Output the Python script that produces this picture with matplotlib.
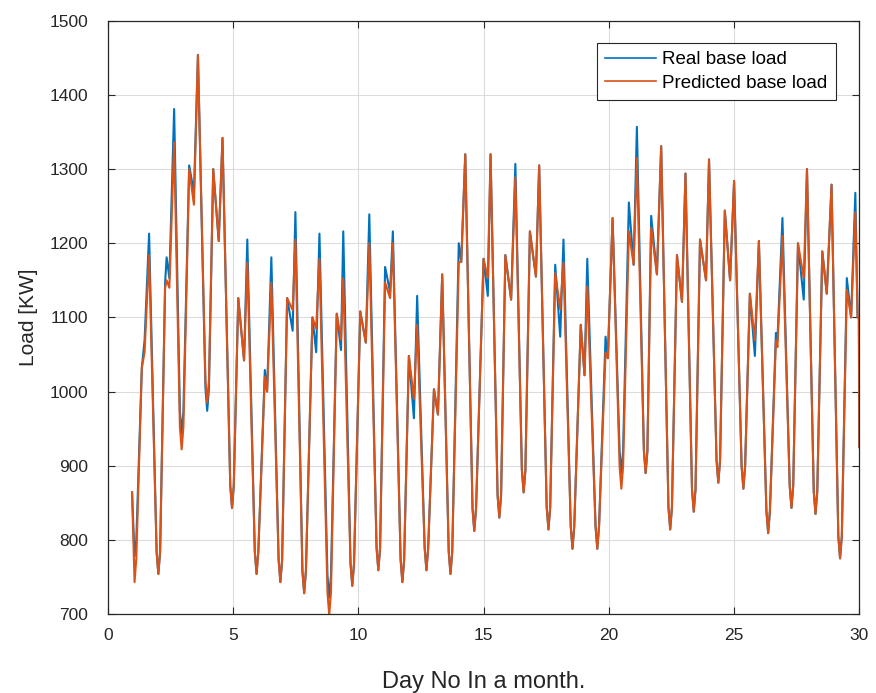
import numpy as np
import matplotlib
matplotlib.use("Agg")
import matplotlib.pyplot as plt

plt.rcParams['font.family'] = ['Liberation Sans', 'DejaVu Sans']

# day of month (points of each daily cycle)
day = [0.97, 1.07, 1.14, 1.36, 1.47, 1.65, 1.95, 2.02, 2.09, 2.29,
       2.35, 2.46, 2.65, 2.88, 2.95, 3.02, 3.25, 3.44, 3.60, 3.90,
       3.97, 4.04, 4.21, 4.43, 4.58, 4.89, 4.96, 5.03, 5.21, 5.44,
       5.57, 5.87, 5.94, 6.01, 6.27, 6.36, 6.53, 6.82, 6.89, 6.96,
       7.16, 7.38, 7.49, 7.77, 7.84, 7.91, 8.17, 8.32, 8.45, 8.77,
       8.84, 8.91, 9.14, 9.31, 9.40, 9.69, 9.76, 9.83, 10.08, 10.30,
       10.44, 10.73, 10.80, 10.87, 11.07, 11.27, 11.38, 11.69, 11.76, 11.83,
       12.02, 12.22, 12.35, 12.65, 12.72, 12.79, 13.02, 13.18, 13.35, 13.61,
       13.68, 13.75, 14.01, 14.11, 14.27, 14.56, 14.63, 14.70, 15.00, 15.17,
       15.28, 15.56, 15.63, 15.70, 15.87, 16.10, 16.27, 16.53, 16.60, 16.67,
       16.85, 17.09, 17.22, 17.52, 17.59, 17.66, 17.86, 18.06, 18.19, 18.48,
       18.55, 18.62, 18.88, 19.03, 19.14, 19.47, 19.54, 19.61, 19.87, 19.96,
       20.15, 20.43, 20.50, 20.57, 20.80, 20.99, 21.12, 21.40, 21.47, 21.54,
       21.69, 21.92, 22.09, 22.38, 22.45, 22.52, 22.72, 22.92, 23.06, 23.32,
       23.39, 23.46, 23.64, 23.88, 24.00, 24.30, 24.37, 24.44, 24.63, 24.84,
       25.00, 25.30, 25.37, 25.44, 25.63, 25.83, 25.99, 26.29, 26.36, 26.43,
       26.67, 26.73, 26.93, 27.22, 27.29, 27.36, 27.55, 27.78, 27.91, 28.18,
       28.25, 28.32, 28.52, 28.70, 28.89, 29.16, 29.23, 29.30, 29.50, 29.67,
       29.84, 29.93, 29.98, 30.00]

# real base load [KW]
real_load = [864, 778, 800, 1032, 1069, 1213, 784, 754, 784, 1147,
             1181, 1153, 1381, 973, 943, 973, 1305, 1268, 1454, 1004,
             974, 1004, 1300, 1203, 1342, 873, 843, 873, 1126, 1042,
             1205, 784, 754, 784, 1029, 1000, 1181, 773, 743, 773,
             1126, 1082, 1242, 758, 728, 758, 1100, 1053, 1213, 752,
             722, 752, 1105, 1056, 1216, 768, 738, 768, 1108, 1066,
             1239, 789, 759, 789, 1168, 1134, 1216, 773, 743, 773,
             1048, 964, 1129, 789, 759, 789, 1003, 969, 1158, 784,
             754, 784, 1200, 1175, 1320, 842, 812, 842, 1179, 1129,
             1320, 860, 830, 860, 1184, 1124, 1307, 894, 864, 894,
             1216, 1155, 1305, 844, 814, 844, 1171, 1074, 1205, 818,
             788, 818, 1090, 1022, 1179, 818, 788, 818, 1074, 1045,
             1234, 920, 890, 920, 1255, 1171, 1357, 920, 890, 920,
             1237, 1158, 1331, 844, 814, 844, 1184, 1121, 1294, 868,
             838, 868, 1205, 1150, 1313, 907, 877, 907, 1244, 1150,
             1284, 899, 869, 899, 1132, 1048, 1203, 839, 809, 839,
             1079, 1069, 1234, 873, 843, 873, 1200, 1124, 1300, 865,
             835, 865, 1189, 1132, 1279, 805, 775, 805, 1153, 1100,
             1268, 1100, 1100, 925]

# predicted base load [KW]
pred_load = [864, 743, 775, 1032, 1053, 1184, 784, 754, 784, 1140,
             1150, 1140, 1336, 952, 922, 952, 1300, 1252, 1454, 1015,
             985, 1015, 1300, 1203, 1342, 873, 843, 873, 1126, 1042,
             1174, 784, 754, 784, 1020, 1000, 1147, 773, 743, 773,
             1126, 1110, 1205, 758, 728, 758, 1100, 1085, 1179, 729,
             699, 729, 1105, 1070, 1153, 768, 738, 768, 1108, 1066,
             1200, 789, 759, 789, 1147, 1126, 1200, 773, 743, 773,
             1048, 990, 1090, 789, 759, 789, 1003, 969, 1158, 784,
             754, 784, 1174, 1175, 1320, 842, 812, 842, 1179, 1153,
             1320, 860, 830, 860, 1184, 1124, 1289, 894, 864, 894,
             1216, 1155, 1305, 844, 814, 844, 1160, 1111, 1174, 818,
             788, 818, 1090, 1022, 1142, 818, 788, 818, 1053, 1045,
             1234, 899, 869, 899, 1216, 1171, 1315, 920, 890, 920,
             1221, 1158, 1331, 844, 814, 844, 1184, 1121, 1294, 868,
             838, 868, 1205, 1150, 1313, 907, 877, 907, 1244, 1150,
             1284, 899, 869, 899, 1132, 1069, 1203, 839, 809, 839,
             1069, 1060, 1210, 873, 843, 873, 1200, 1153, 1300, 865,
             835, 865, 1189, 1132, 1279, 805, 775, 805, 1137, 1100,
             1242, 1100, 1100, 925]

x_ticks = [0, 5, 10, 15, 20, 25, 30]
y_ticks = [700, 800, 900, 1000, 1100, 1200, 1300, 1400, 1500]

fig = plt.figure(figsize=(8.76, 6.93), dpi=100)
ax = fig.add_axes([0.123, 0.114, 0.858, 0.856])

ax.plot(day, real_load, color='#0072BD', lw=1.5, label='Real base load')
ax.plot(day, pred_load, color='#D95319', lw=1.5, label='Predicted base load')

ax.set_xlim(0, 30)
ax.set_ylim(700, 1500)
ax.set_xticks(x_ticks)
ax.set_yticks(y_ticks)
ax.tick_params(direction='in', top=True, right=True, labelsize=12.5,
               length=5, width=0.8, colors='#262626')
ax.tick_params(axis='x', pad=10)
ax.tick_params(axis='y', pad=14)
ax.grid(True, color='#dcdcdc', lw=0.8)
ax.set_axisbelow(True)
for s in ax.spines.values():
    s.set_linewidth(0.9)
    s.set_color('#262626')

ax.set_xlabel('Day No In a month.', fontsize=17, color='#262626', labelpad=20)
ax.set_ylabel('Load [KW]', fontsize=15, color='#262626', labelpad=8)

leg = ax.legend(loc='upper right', bbox_to_anchor=(0.969, 0.963), borderaxespad=0,
                fontsize=13.5, fancybox=False, framealpha=1, edgecolor='#262626',
                handlelength=2.7, handletextpad=0.35, borderpad=0.45, labelspacing=0.35)
leg.get_frame().set_linewidth(0.8)
for ln in leg.get_lines():
    ln.set_linewidth(1.2)

fig.savefig('out.png', dpi=100)
